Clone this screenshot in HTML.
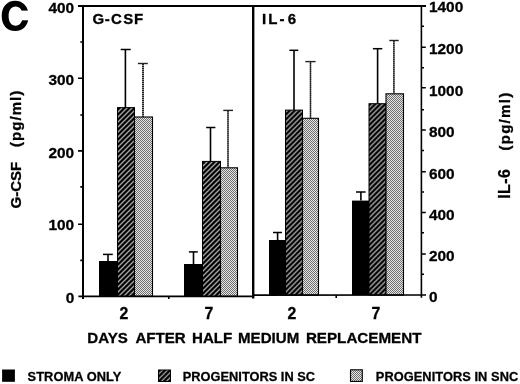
<!DOCTYPE html>
<html><head><meta charset="utf-8"><style>
html,body{margin:0;padding:0;background:#fff;width:520px;height:384px;overflow:hidden}
svg{display:block;filter:grayscale(1)}
text{font-family:"Liberation Sans",sans-serif;font-weight:bold;fill:#000;stroke:#000;stroke-width:0.3px}
</style></head><body>
<svg width="520" height="384" viewBox="0 0 520 384">
<defs>
<pattern id="h1" patternUnits="userSpaceOnUse" x="0" y="0" width="5" height="5">
<rect width="5" height="5" fill="#000"/>
<path d="M-1,1 L1,-1 M0,5 L5,0 M4,6 L6,4" stroke="#a4a4a4" stroke-width="1.4"/>
</pattern>
<pattern id="h2" patternUnits="userSpaceOnUse" x="4" y="0" width="5" height="5">
<rect width="5" height="5" fill="#000"/>
<path d="M-1,1 L1,-1 M0,5 L5,0 M4,6 L6,4" stroke="#a4a4a4" stroke-width="1.4"/>
</pattern>
<pattern id="h3" patternUnits="userSpaceOnUse" x="2.8" y="0" width="5" height="5">
<rect width="5" height="5" fill="#000"/>
<path d="M-1,1 L1,-1 M0,5 L5,0 M4,6 L6,4" stroke="#a4a4a4" stroke-width="1.4"/>
</pattern>
<pattern id="h4" patternUnits="userSpaceOnUse" x="1.8" y="0" width="5" height="5">
<rect width="5" height="5" fill="#000"/>
<path d="M-1,1 L1,-1 M0,5 L5,0 M4,6 L6,4" stroke="#a4a4a4" stroke-width="1.4"/>
</pattern>
<pattern id="hl" patternUnits="userSpaceOnUse" x="2.7" y="0" width="5" height="5">
<rect width="5" height="5" fill="#000"/>
<path d="M-1,1 L1,-1 M0,5 L5,0 M4,6 L6,4" stroke="#c4c4c4" stroke-width="1.1"/>
</pattern>
<pattern id="dots" patternUnits="userSpaceOnUse" width="2" height="2">
<rect width="2" height="2" fill="#e6e6e6"/>
<rect width="1" height="1" fill="#6e6e6e"/>
<rect x="1" y="1" width="1" height="1" fill="#6e6e6e"/>
</pattern>
</defs>

<!-- panel letter C -->
<path d="M1.70,15.90 C1.70,6.84 7.08,0.80 15.15,0.80 C23.22,0.80 28.60,6.84 28.60,15.90 C28.60,24.96 23.22,31.00 15.15,31.00 C7.08,31.00 1.70,24.96 1.70,15.90Z M8.60,16.10 C8.60,10.15 11.26,6.50 15.60,6.50 C19.94,6.50 22.60,10.15 22.60,16.10 C22.60,22.05 19.94,25.70 15.60,25.70 C11.26,25.70 8.60,22.05 8.60,16.10Z" fill="#000" fill-rule="evenodd"/>
<rect x="19" y="10.6" width="12" height="9.7" fill="#fff"/>

<!-- bars -->
<rect x="99" y="261" width="18" height="35.4" fill="#000"/>
<rect x="117.5" y="107.6" width="17.0" height="188.8" fill="url(#h1)" stroke="#000" stroke-width="1"/>
<rect x="134.5" y="117.0" width="18.0" height="179.4" fill="url(#dots)" stroke="#000" stroke-width="1.1"/>
<rect x="184" y="264" width="18" height="32.4" fill="#000"/>
<rect x="202.5" y="161.4" width="18.0" height="135.0" fill="url(#h2)" stroke="#000" stroke-width="1"/>
<rect x="220.5" y="167.8" width="17.0" height="128.6" fill="url(#dots)" stroke="#000" stroke-width="1.1"/>
<rect x="269" y="240" width="16" height="55.1" fill="#000"/>
<rect x="285.5" y="110.1" width="17.0" height="185.0" fill="url(#h3)" stroke="#000" stroke-width="1"/>
<rect x="302.5" y="118.3" width="16.0" height="176.8" fill="url(#dots)" stroke="#000" stroke-width="1.1"/>
<rect x="352" y="200.6" width="17" height="94.5" fill="#000"/>
<rect x="369" y="103.7" width="17" height="191.4" fill="url(#h4)" stroke="#000" stroke-width="1"/>
<rect x="386" y="93.8" width="17.5" height="201.3" fill="url(#dots)" stroke="#000" stroke-width="1.1"/>

<!-- frame -->
<g stroke="#000" fill="none">
<line x1="78" y1="6" x2="426" y2="6" stroke-width="2"/>
<line x1="83" y1="5" x2="83" y2="299" stroke-width="2"/>
<line x1="253.2" y1="5" x2="253.2" y2="298.5" stroke-width="2.4"/>
<line x1="421.4" y1="5" x2="421.4" y2="297.7" stroke-width="1.6"/>
<line x1="78.4" y1="296.4" x2="253" y2="296.4" stroke-width="1.6"/>
<line x1="253" y1="295.1" x2="426" y2="295.0" stroke-width="1.6"/>
<path d="M78,78.2H82 M78,150.9H82 M78,224.2H82 M80.3,42H82 M80.3,115H82 M80.3,186.9H82 M80.3,260.4H82" stroke-width="1.6"/>
<path d="M422,26.25H424 M422,47.3H425.8 M422,67.7H424 M422,87.8H425.8 M422,109.7H424 M422,130H425.8 M422,150.6H424 M422,171.7H425.8 M422,192H424 M422,212.5H425.8 M422,232.8H424 M422,253.9H425.8 M422,274.2H424" stroke-width="1.5"/>
<path d="M168.8,296V299 M336.2,295V298" stroke-width="1.6"/>
</g>

<!-- error bars -->
<g stroke="#000" fill="none">
<g stroke-width="1.6"><path d="M108,261V254.4"/><path d="M125.4,107.6V49.5"/><path d="M193.5,264V251.9"/><path d="M210.5,161.4V127.5"/><path d="M277.6,240V232.5"/><path d="M294,110.1V50.3"/><path d="M360.9,200.6V192"/><path d="M377.6,103.7V48.7"/></g>
<g stroke-width="1.5"><path d="M103,254.4H112.8"/><path d="M120.7,49.5H130.7"/><path d="M188.9,251.9H197.8"/><path d="M206.2,127.5H215.4"/><path d="M273,232.5H282"/><path d="M289.4,50.3H298.3"/><path d="M356,192H365.6"/><path d="M372.9,48.7H382.3"/></g>
<g stroke="#5a5a5a" stroke-width="1.4"><path d="M143,117V63.5"/><path d="M228,167.8V110.4"/><path d="M310.5,118.3V61.6"/><path d="M393.9,93.8V40.5"/></g>
<g stroke="#000" stroke-width="1.4" stroke-dasharray="1,1"><path d="M143,117V63.5"/><path d="M228,167.8V110.4"/><path d="M310.5,118.3V61.6"/><path d="M393.9,93.8V40.5"/></g>
<g stroke="#222" stroke-width="1.4"><path d="M137.9,63.5H147.8"/><path d="M223.3,110.4H233"/><path d="M305.3,61.6H315.6"/><path d="M389.3,40.5H398.7"/></g>
</g>

<!-- panel titles -->
<text x="92.5 104.86 110.93 123.17 133.89" y="24.2" font-size="15">G-CSF</text>
<text x="261.9 268.2 279.46 287.7" y="23.8" font-size="15">IL-6</text>

<!-- left tick labels -->
<g font-size="15.4" text-anchor="end">
<text x="74.2" y="12.6">400</text>
<text x="74.2" y="85.1">300</text>
<text x="74.2" y="157.7">200</text>
<text x="74.2" y="230.4">100</text>
<text x="74.2" y="303">0</text>
</g>
<!-- right tick labels -->
<g font-size="15.4">
<text x="429" y="12.3">1400</text>
<text x="429" y="54.2">1200</text>
<text x="429" y="95.8">1000</text>
<text x="429" y="137.4">800</text>
<text x="429" y="178.6">600</text>
<text x="429" y="219.9">400</text>
<text x="429" y="261.2">200</text>
<text x="429" y="301.8">0</text>
</g>

<!-- category labels -->
<g font-size="15.8">
<text x="119.6" y="318.5">2</text>
<text x="204.6" y="318.5">7</text>
<text x="287.6" y="318.5">2</text>
<text x="371.4" y="318.5">7</text>
</g>

<g font-size="15.1">
<text x="87.3" y="342.6">DAYS</text>
<text x="135.4" y="342.6">AFTER</text>
<text x="192" y="342.6">HALF</text>
<text x="238" y="342.6">MEDIUM</text>
<text x="305.9" y="342.6" font-size="15.2">REPLACEMENT</text>
</g>

<!-- axis titles (rotated) -->
<g stroke="#000" stroke-width="0.35">
<text transform="translate(20.6,208.5) rotate(-90)" font-size="15">G-CSF</text>
<text transform="translate(20.8,146.9) rotate(-90)" font-size="15" textLength="56.2" lengthAdjust="spacing">(pg/ml)</text>
<text transform="translate(510.4,198.8) rotate(-90)" font-size="16" textLength="29.6" lengthAdjust="spacing">IL-6</text>
<text transform="translate(509.7,150.6) rotate(-90)" font-size="15" textLength="57.8" lengthAdjust="spacing">(pg/ml)</text>
</g>

<!-- legend -->
<rect x="2.1" y="369.5" width="12.8" height="12.3" fill="#000"/>
<text x="27.5" y="380.5" font-size="12.8" textLength="93.9" lengthAdjust="spacing">STROMA ONLY</text>
<rect x="158.5" y="370" width="12" height="11.5" fill="url(#hl)" stroke="#000" stroke-width="1"/>
<text x="182.8" y="380.5" font-size="12.8" textLength="132.2" lengthAdjust="spacing">PROGENITORS IN SC</text>
<rect x="350.5" y="369.8" width="11.8" height="11.6" fill="url(#dots)" stroke="#000" stroke-width="1.1"/>
<text x="375.8" y="380.5" font-size="12.8" textLength="142.4" lengthAdjust="spacing">PROGENITORS IN SNC</text>
</svg>
</body></html>
